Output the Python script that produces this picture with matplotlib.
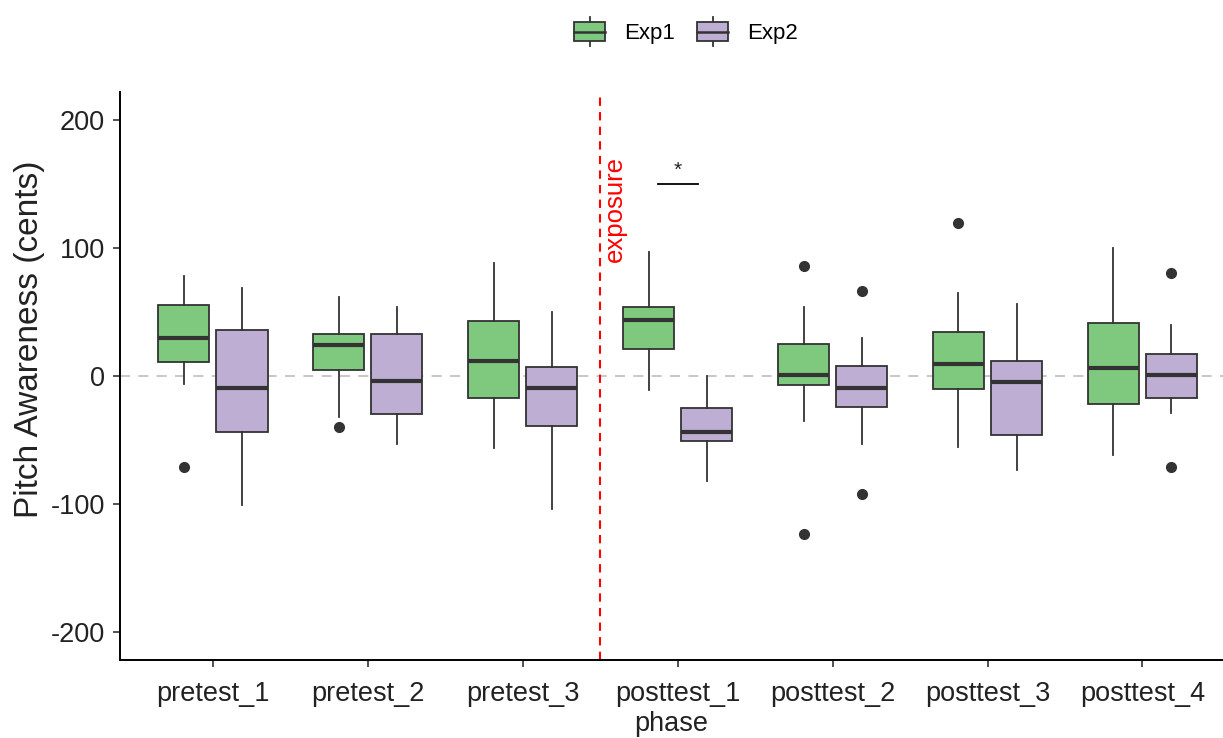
import matplotlib
matplotlib.use('Agg')
import matplotlib.pyplot as plt
from matplotlib.patches import Rectangle
from matplotlib.lines import Line2D
from matplotlib.legend_handler import HandlerBase

plt.rcParams['font.family'] = ['Liberation Sans', 'DejaVu Sans']
plt.rcParams['axes.unicode_minus'] = False

# 資料
phases = ['pretest_1', 'pretest_2', 'pretest_3', 'posttest_1', 'posttest_2', 'posttest_3', 'posttest_4']
groups = ['Exp1', 'Exp2']
colors = ['#7FC97F', '#BEAED4']

# 每組: 下鬚, Q1, 中位數, Q3, 上鬚
exp1_whislo = [-6, -32, -56, -11, -35, -55, -62]
exp1_q1     = [11, 5, -17, 21, -7, -10, -22]
exp1_med    = [30, 24, 12, 44, 1, 9, 6]
exp1_q3     = [55, 33, 43, 54, 25, 34, 41]
exp1_whishi = [78, 62, 88, 97, 54, 65, 100]
exp1_fliers = [[-71], [-40], [], [], [86, -123], [119], []]

exp2_whislo = [-101, -53, -104, -82, -53, -73, -29]
exp2_q1     = [-44, -30, -39, -51, -24, -46, -17]
exp2_med    = [-9, -4, -9, -44, -9, -5, 1]
exp2_q3     = [36, 33, 7, -25, 8, 12, 17]
exp2_whishi = [69, 54, 50, 0, 30, 56, 40]
exp2_fliers = [[], [], [], [], [66, -92], [], [80, -71]]

sig_y = 150          # 顯著標記高度
exposure_at = 3.5    # exposure 分隔線位置


def make_stats(lo, q1, med, q3, hi, fl):
    return [dict(whislo=a, q1=b, med=c, q3=d, whishi=e, fliers=f)
            for a, b, c, d, e, f in zip(lo, q1, med, q3, hi, fl)]


stats = [make_stats(exp1_whislo, exp1_q1, exp1_med, exp1_q3, exp1_whishi, exp1_fliers),
         make_stats(exp2_whislo, exp2_q1, exp2_med, exp2_q3, exp2_whishi, exp2_fliers)]

fig = plt.figure(figsize=(12.23, 7.38), dpi=100)
ax = fig.add_axes([120/1223, 78/738, 1 - 120/1223, (660 - 92)/738])

ax.axhline(0, color='#BDBDBD', lw=1.2, ls=(0, (6, 5)), zorder=0)

edge = '#333333'
offsets = [-0.1875, 0.1875]
for g in range(2):
    pos = [i + 1 + offsets[g] for i in range(len(phases))]
    ax.bxp(stats[g], positions=pos, widths=0.33, patch_artist=True, showcaps=False,
           boxprops=dict(facecolor=colors[g], edgecolor=edge, linewidth=1.3),
           whiskerprops=dict(color=edge, linewidth=1.3),
           medianprops=dict(color=edge, linewidth=3),
           flierprops=dict(marker='o', markerfacecolor=edge, markeredgecolor=edge, markersize=7))

# exposure 線
ax.axvline(exposure_at, color='red', lw=1.5, ls=(0, (4, 3)))
ax.text(exposure_at + 0.097, 130, 'exposure', rotation=90, color='red',
        fontsize=18.5, ha='center', va='center')

# 顯著標記
ax.plot([4 - 0.13, 4 + 0.13], [sig_y, sig_y], color='black', lw=1.3)
ax.text(4, sig_y + 3, '*', ha='center', va='bottom', fontsize=15, color='#222222')

ax.set_xlim(0.4, 7.52)
ax.set_ylim(-221.5, 221.5)
ax.set_xticks(range(1, len(phases) + 1))
ax.set_xticklabels(phases)
ax.set_yticks([-200, -100, 0, 100, 200])
ax.tick_params(labelsize=19.5, length=5, width=1.2, color='#333333', labelcolor='#222222')
ax.tick_params(axis='x', pad=10)
ax.tick_params(axis='y', pad=6)
ax.set_xlabel('phase', fontsize=19.5, labelpad=3, color='#222222')
ax.set_ylabel('Pitch Awareness (cents)', fontsize=24, color='#222222')
ax.yaxis.set_label_coords(-0.068, 0.565)
ax.spines['top'].set_visible(False)
ax.spines['right'].set_visible(False)
for s in ['left', 'bottom']:
    ax.spines[s].set_linewidth(1.4)


class BoxHandler(HandlerBase):
    def __init__(self, fc):
        super().__init__()
        self.fc = fc

    def create_artists(self, legend, orig_handle, xdescent, ydescent, width, height, fontsize, trans):
        bh = height * 0.66
        y0 = -ydescent + (height - bh) / 2
        cx = -xdescent + width / 2
        rect = Rectangle((-xdescent, y0), width, bh, facecolor=self.fc, edgecolor=edge,
                         lw=1.3, transform=trans)
        med = Line2D([-xdescent, -xdescent + width], [y0 + bh / 2] * 2, color=edge, lw=1.8, transform=trans)
        w1 = Line2D([cx, cx], [-ydescent, y0], color=edge, lw=1.3, transform=trans)
        w2 = Line2D([cx, cx], [y0 + bh, -ydescent + height], color=edge, lw=1.3, transform=trans)
        return [w1, w2, rect, med]


handles = [Rectangle((0, 0), 1, 1, label=g) for g in groups]
fig.legend(handles=handles, labels=groups, loc='center', bbox_to_anchor=(0.561, 0.957),
           ncol=2, frameon=False, fontsize=16, handlelength=1.4, handleheight=1.65,
           handletextpad=0.85, columnspacing=1.0,
           handler_map={handles[0]: BoxHandler(colors[0]), handles[1]: BoxHandler(colors[1])})

fig.savefig('out.png', dpi=100)
